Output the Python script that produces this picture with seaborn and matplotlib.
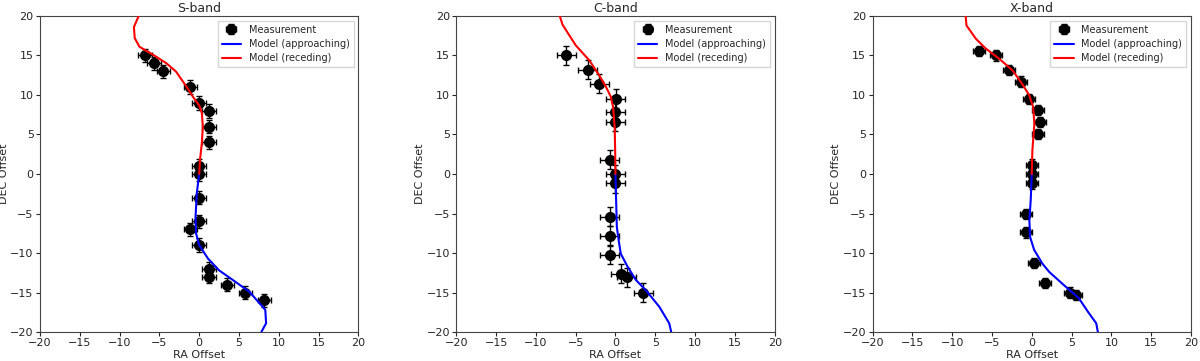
import matplotlib
matplotlib.use("Agg")
import matplotlib.pyplot as plt
import seaborn as sns
import pandas as pd

bands = ["S-band", "C-band", "X-band"]

# measured offsets (RA, DEC) per band
s_ra  = [-6.8, -5.7, -4.5, -1.1, 0.0, 1.25, 1.25, 1.25, 0.0, 0.0, 0.0, 0.0, -1.1, 0.0, 1.25, 1.25, 3.55, 5.8, 8.2]
s_dec = [15.0, 14.0, 13.0, 11.0, 9.0, 8.0, 6.0, 4.0, 1.0, 0.0, -3.0, -6.0, -7.0, -9.0, -12.0, -13.0, -14.0, -15.0, -16.0]
c_ra  = [-6.2, -3.5, -2.05, 0.05, 0.0, 0.0, -0.7, 0.0, 0.0, -0.7, -0.7, -0.7, 0.67, 1.4, 3.5]
c_dec = [15.0, 13.2, 11.4, 9.5, 7.8, 6.6, 1.8, 0.0, -1.2, -5.4, -7.8, -10.25, -12.6, -13.1, -15.0]
x_ra  = [-6.6, -4.5, -2.8, -1.4, -0.4, 0.75, 1.05, 0.75, 0.0, 0.0, 0.0, -0.7, -0.7, 0.25, 1.7, 4.8, 5.5]
x_dec = [15.6, 15.0, 13.2, 11.7, 9.5, 8.1, 6.6, 5.1, 1.2, 0.0, -1.2, -5.1, -7.4, -11.3, -13.8, -15.0, -15.3]

# error sizes per band (RA, DEC)
s_err = (0.85, 0.85)
c_err = (1.2, 1.2)
x_err = (0.75, 0.65)

# model tracks: receding (north) and approaching (south)
s_rec_ra  = [0.0, 0.1, 0.33, 0.46, 0.33, 0.04, -0.8, -1.6, -2.9, -4.1, -5.8, -7.5, -8.1, -8.2, -7.6]
s_rec_dec = [0.0, 1.8, 3.9, 6.0, 7.7, 8.6, 9.8, 11.05, 12.95, 14.0, 15.1, 16.1, 17.2, 18.6, 20.0]
s_app_ra  = [0.0, -0.3, -0.46, -0.4, 0.0, 1.1, 2.5, 4.2, 6.3, 8.3, 8.4, 7.8]
s_app_dec = [0.0, -2.4, -5.4, -7.5, -9.0, -10.7, -12.2, -13.4, -14.9, -17.2, -18.9, -20.0]

c_rec_ra  = [0.0, -0.04, -0.1, -0.3, -0.6, -1.2, -2.05, -3.3, -5.0, -6.65, -7.0]
c_rec_dec = [0.0, 3.0, 6.0, 8.5, 9.8, 11.05, 12.5, 14.4, 16.3, 18.9, 20.0]
c_app_ra  = [0.0, 0.08, 0.17, 0.4, 0.67, 1.5, 2.55, 3.8, 5.5, 6.75, 7.0]
c_app_dec = [0.0, -3.3, -6.7, -8.4, -10.1, -11.7, -13.4, -14.7, -16.8, -18.9, -20.0]

x_rec_ra  = [0.0, 0.08, 0.33, 0.17, -0.33, -1.2, -2.4, -4.1, -5.8, -7.0, -8.2, -8.3]
x_rec_dec = [0.0, 3.0, 6.4, 8.5, 10.0, 11.4, 13.1, 14.6, 15.9, 17.1, 18.8, 20.0]
x_app_ra  = [0.0, -0.13, -0.3, -0.2, 0.3, 1.34, 2.2, 4.3, 5.9, 7.1, 8.1, 8.3]
x_app_dec = [0.0, -3.3, -5.9, -8.0, -9.6, -11.35, -12.4, -14.3, -15.7, -17.5, -18.9, -20.0]

panels = [
    (s_ra, s_dec, s_err, s_app_ra, s_app_dec, s_rec_ra, s_rec_dec),
    (c_ra, c_dec, c_err, c_app_ra, c_app_dec, c_rec_ra, c_rec_dec),
    (x_ra, x_dec, x_err, x_app_ra, x_app_dec, x_rec_ra, x_rec_dec),
]

sns.set_style("white")
plt.rcParams["font.family"] = ["DejaVu Sans"]
plt.rcParams["font.size"] = 8

fig, axes = plt.subplots(1, 3, figsize=(12, 3.61), dpi=100)
fig.subplots_adjust(left=0.0333, right=0.9925, top=0.9557, bottom=0.0803, wspace=0.307)

for ax, band, (ra, dec, err, ara, adec, rra, rdec) in zip(axes, bands, panels):
    ax.errorbar(ra, dec, xerr=err[0], yerr=err[1], fmt="o", color="black",
                ecolor="black", markersize=7, capsize=2, elinewidth=1,
                label="Measurement", zorder=3)
    app = pd.DataFrame({"ra": ara, "dec": adec})
    rec = pd.DataFrame({"ra": rra, "dec": rdec})
    sns.lineplot(data=app, x="ra", y="dec", sort=False, estimator=None,
                 color="blue", linewidth=1.5, label="Model (approaching)", ax=ax, zorder=4)
    sns.lineplot(data=rec, x="ra", y="dec", sort=False, estimator=None,
                 color="red", linewidth=1.5, label="Model (receding)", ax=ax, zorder=4)
    ax.set_xlim(-20, 20)
    ax.set_ylim(-20, 20)
    ax.set_xticks(range(-20, 21, 5))
    ax.set_yticks(range(-20, 21, 5))
    ax.set_xlabel("RA Offset", fontsize=8, labelpad=1)
    ax.set_ylabel("DEC Offset", fontsize=8, labelpad=1)
    ax.set_title(band, fontsize=9, pad=3)
    ax.tick_params(axis="both", which="both", direction="out", length=3,
                   labelsize=8, bottom=True, left=True, pad=1.5)
    for sp in ax.spines.values():
        sp.set_color("#444444")
        sp.set_linewidth(0.8)
    handles, labels = ax.get_legend_handles_labels()
    order = [labels.index("Measurement"), labels.index("Model (approaching)"),
             labels.index("Model (receding)")]
    ax.legend([handles[i] for i in order], [labels[i] for i in order],
              loc="upper right", fontsize=7, frameon=True, framealpha=0.8,
              edgecolor="#cccccc", fancybox=False, borderpad=0.4, labelspacing=0.45)

plt.savefig("out.png", dpi=100)
